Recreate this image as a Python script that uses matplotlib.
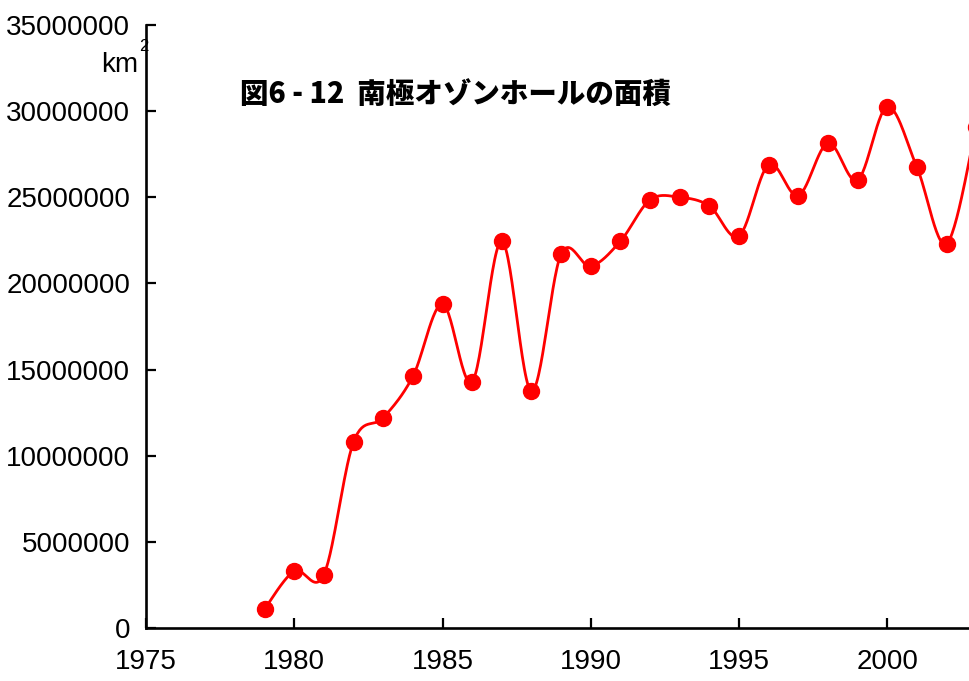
import matplotlib
matplotlib.use("Agg")
import matplotlib.pyplot as plt
import numpy as np

years = list(range(1979, 2004))
area = [1100000, 3300000, 3100000, 10800000, 12200000, 14600000, 18800000,
        14300000, 22450000, 13750000, 21700000, 21000000, 22450000, 24850000,
        25000000, 24500000, 22750000, 26900000, 25100000, 28150000, 26000000,
        30250000, 26750000, 22300000, 29100000]

yticks = list(range(0, 35000001, 5000000))
xticks = [1975, 1980, 1985, 1990, 1995, 2000]
title = "図6 - 12  南極オゾンホールの面積"

num_font = "Liberation Sans"


def smooth(xs, ys, n=30):
    # cubic bezier through every point, control points from neighbours (Catmull-Rom)
    px = np.array(xs, dtype=float)
    py = np.array(ys, dtype=float)
    px = np.concatenate([[px[0]], px, [px[-1]]])
    py = np.concatenate([[py[0]], py, [py[-1]]])
    out_x, out_y = [], []
    t = np.linspace(0, 1, n)
    for i in range(1, len(px) - 2):
        p0 = np.array([px[i], py[i]])
        p3 = np.array([px[i + 1], py[i + 1]])
        c1 = p0 + (np.array([px[i + 1], py[i + 1]]) - np.array([px[i - 1], py[i - 1]])) / 6
        c2 = p3 - (np.array([px[i + 2], py[i + 2]]) - np.array([px[i], py[i]])) / 6
        b = ((1 - t) ** 3)[:, None] * p0 + (3 * (1 - t) ** 2 * t)[:, None] * c1 \
            + (3 * (1 - t) * t ** 2)[:, None] * c2 + (t ** 3)[:, None] * p3
        out_x.extend(b[:, 0])
        out_y.extend(b[:, 1])
    return out_x, out_y


fig = plt.figure(figsize=(9.7, 6.81), dpi=100)
ax = fig.add_axes([146 / 970, 53 / 681, 889.5 / 970, 603 / 681])

sx, sy = smooth(years, area)
ax.plot(sx, sy, color="#ff0000", lw=2.0, zorder=3)
ax.plot(years, area, "o", color="#ff0000", ms=11.5, zorder=4)

ax.set_xlim(1975, 2005)
ax.set_ylim(0, 35000000)
ax.set_xticks(xticks)
ax.set_yticks(yticks)
ax.set_yticklabels([str(v) for v in yticks])
ax.set_xticklabels([str(v) for v in xticks])

for s in ["top", "right"]:
    ax.spines[s].set_visible(False)
for s in ["left", "bottom"]:
    ax.spines[s].set_linewidth(1.9)
    ax.spines[s].set_color("black")

ax.tick_params(axis="both", direction="in", length=7, width=1.6, colors="black")
ax.tick_params(axis="y", pad=11.5)
ax.tick_params(axis="x", pad=15)
for lab in ax.get_xticklabels() + ax.get_yticklabels():
    lab.set_fontfamily(num_font)
    lab.set_fontsize(20)

fig.text(101 / 970, 1 - 72 / 681, "km", fontfamily=num_font, fontsize=20,
         ha="left", va="baseline")
fig.text(139 / 970, 1 - 51 / 681, "2", fontfamily=num_font, fontsize=12,
         ha="left", va="baseline")

fig.text(240 / 970, 1 - 95 / 681, title, fontfamily=["Noto Sans CJK JP", "DejaVu Sans"],
         fontweight="black", fontsize=20.5, ha="left", va="center")

fig.savefig("out.png", dpi=100)
